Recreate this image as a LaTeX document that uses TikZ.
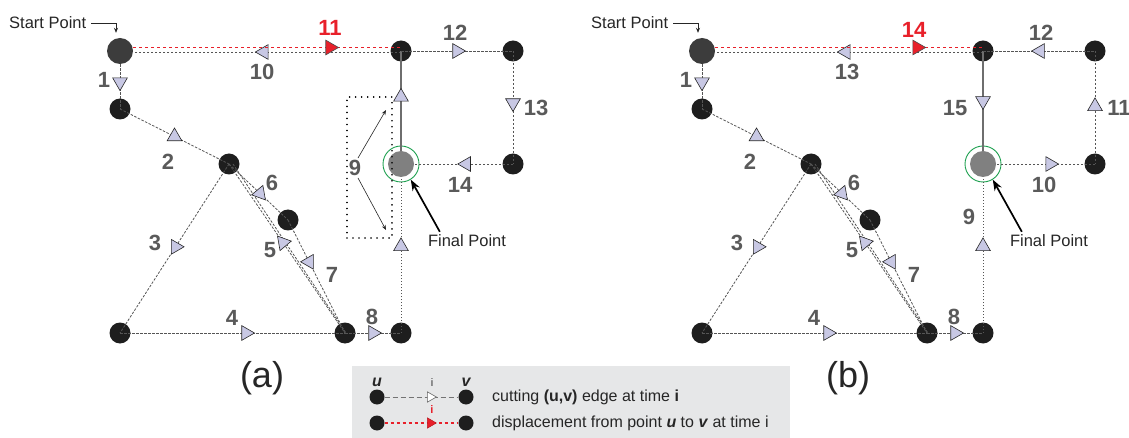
\documentclass[tikz,border=0pt]{standalone}
\usepackage{fontspec}
\setmainfont{Liberation Sans}
\usetikzlibrary{shapes.geometric,arrows.meta}
\definecolor{lav}{RGB}{200,200,228}
\definecolor{numgray}{RGB}{90,90,90}
\definecolor{dispred}{RGB}{232,32,42}
\definecolor{nodeblk}{RGB}{30,30,30}
\definecolor{startgray}{RGB}{60,60,60}
\definecolor{finalgray}{RGB}{128,128,128}
\definecolor{ringgreen}{RGB}{30,160,80}
\definecolor{edgegray}{RGB}{85,85,85}
\definecolor{solidgray}{RGB}{110,110,110}
\definecolor{legendbg}{RGB}{230,231,232}
\tikzset{
 vtx/.style={circle, fill=nodeblk, minimum size=21pt, inner sep=0pt},
 startv/.style={circle, fill=startgray, minimum size=26pt, inner sep=0pt},
 finalv/.style={circle, fill=finalgray, minimum size=26pt, inner sep=0pt},
 ring/.style={circle, draw=ringgreen, line width=0.9pt, minimum size=36pt, inner sep=0pt},
 lvtx/.style={circle, fill=nodeblk, minimum size=15pt, inner sep=0pt},
 edge/.style={draw=edgegray, line width=0.8pt, dash pattern=on 2.5pt off 1.5pt},
 dotedge/.style={draw=edgegray, line width=0.8pt, dash pattern=on 1.2pt off 1.8pt},
 solidedge/.style={draw=solidgray, line width=1.2pt},
 disp/.style={draw=dispred, line width=1.3pt, dash pattern=on 3pt off 3pt},
 tri/.style={regular polygon, regular polygon sides=3, solid, draw=black!85, fill=lav, line width=0.6pt, minimum size=17pt, inner sep=0pt, rotate=#1},
 redtri/.style={regular polygon, regular polygon sides=3, solid, draw=black!70, fill=dispred, line width=0.6pt, minimum size=17pt, inner sep=0pt, rotate=#1},
 num/.style={text=numgray, font=\fontsize{22}{22}\selectfont\bfseries, inner sep=0pt},
 rednum/.style={num, text=dispred},
 lbl/.style={font=\fontsize{16.5}{16.5}\selectfont, text=black!85, inner sep=0pt},
 captext/.style={font=\fontsize{36}{36}\selectfont, text=black!85, inner sep=0pt},
 thinarr/.style={draw=black!85, line width=0.6pt, -{Stealth[length=5pt,width=4pt]}},
 bigarr/.style={draw=black, line width=1.7pt, -{Stealth[length=11pt,width=8pt]}},
}
\newcommand\panelcommon[1]{%
 \node[startv] (S) at (120,51) {};
 \node[vtx] (A1) at (120,109) {};
 \node[vtx] (A2) at (229,164) {};
 \node[vtx] (M) at (288,220) {};
 \node[vtx] (BL) at (120,333) {};
 \node[vtx] (BM) at (345,333) {};
 \node[vtx] (BR) at (401,333) {};
 \node[ring] (FR) at (401,164) {};
 \node[finalv] (F) at (401,164) {};
 \node[vtx] (T) at (401,51) {};
 \node[vtx] (TR) at (513,51) {};
 \node[vtx] (RM) at (513,164) {};
 \path[edge] (S) -- node[tri=180, pos=.4]{} (A1.center);
 \path[edge] (A1.center) -- node[tri=0, pos=.5]{} (A2.center);
 \path[edge] (A2.center) -- node[tri=-90, pos=.49]{} (BL.center);
 \path[edge] (BL.center) -- node[tri=-90, pos=.56]{} (BM.center);
 \path[edge] ([xshift=4pt]A2.center) -- ([xshift=1pt]BM.center);
 \path[edge] (A2.center) -- node[tri=-80, pos=.465]{} (BM.center);
 \path[edge] (A2.center) -- node[tri=100, pos=.525]{} (M.center);
 \path[edge] (M.center) -- node[tri=90, pos=.37]{} (BM.center);
 \path[edge] (BM.center) -- node[tri=-90, pos=.5]{} (BR.center);
 \path[dotedge] (BR.center) -- node[tri=0, pos=.556]{} (F);
 \path[edge] ([yshift=-1pt]T.center) -- node[tri=90, pos=.512]{} ([yshift=-1pt]S.east);
 \path[disp] ([yshift=3.5pt]S.east) -- node[redtri=-90, pos=#1]{} ([yshift=3.5pt]T.center);
 \node[num] (n1) at (104,80) {1};
 \node[num] (n2) at (168,162) {2};
 \node[num] (n3) at (155,243) {3};
 \node[num] (n4) at (232,318) {4};
 \node[num] (n5) at (270,250) {5};
 \node[num] (n6) at (272,183) {6};
 \node[num] (n7) at (332,275) {7};
 \node[num] (n8) at (372,317) {8};
 \node[lbl, anchor=west] (sp) at (9,23) {Start Point};
 \draw[thinarr] ([xshift=5pt]sp.east) -| ([xshift=-4pt,yshift=5pt]S.north);
 \node[lbl] (fp) at (467,241) {Final Point};
 \draw[bigarr] ([xshift=12pt,yshift=3pt]fp.north west) -- (FR.-58);
}
\begin{document}
\begin{tikzpicture}[x=1pt,y=-1pt]
\useasboundingbox (0,0) rectangle (1129,438);
% ---------- panel (a)
\begin{scope}[name prefix=a-]
 \panelcommon{.735}
 \path[solidedge] (T.center) -- node[tri=0, pos=.46]{} (F);
 \path[edge] (T.center) -- node[tri=-90, pos=.5]{} (TR.center);
 \path[edge] (TR.center) -- node[tri=180, pos=.46]{} (RM.center);
 \path[edge] (RM.center) -- node[tri=90, pos=.473]{} (F);
 \node[num] (n10) at (262,72) {10};
 \node[rednum] (n11) at (330,28) {11};
 \node[num] (n12) at (455,33) {12};
 \node[num] (n13) at (536,108) {13};
 \node[num] (n14) at (460,185) {14};
 \node[num] (n9) at (355,168) {9};
 \node[draw=black, line width=1.7pt, line cap=round, dash pattern=on 0.01pt off 6pt, minimum width=45pt, minimum height=141pt, inner sep=0pt] (box9) at (369.5,167.5) {};
 \coordinate (u9) at (386,110);
 \coordinate (d9) at (386,230);
 \draw[thinarr] ([xshift=3pt,yshift=2pt]n9.north) -- (u9);
 \draw[thinarr] ([xshift=3pt,yshift=-2pt]n9.south) -- (d9);
 \node[captext] (capa) at (262,378) {(a)};
\end{scope}
% ---------- panel (b)
\begin{scope}[xshift=582pt, name prefix=b-]
 \panelcommon{.754}
 \path[solidedge] (T.center) -- node[tri=180, pos=.5]{} (F);
 \path[edge] (T.center) -- node[tri=90, pos=.51]{} (TR.center);
 \path[edge] (TR.center) -- node[tri=0, pos=.49]{} (RM.center);
 \path[edge] (RM.center) -- node[tri=-90, pos=.455]{} (F);
 \node[num] (n13) at (265,72) {13};
 \node[rednum] (n14) at (332,30) {14};
 \node[num] (n12) at (459,33) {12};
 \node[num] (n11) at (537,108) {11};
 \node[num] (n15) at (373,108) {15};
 \node[num] (n10) at (462,185) {10};
 \node[num] (n9) at (387,217) {9};
 \node[captext] (capb) at (266,378) {(b)};
\end{scope}
% ---------- legend
\node[fill=legendbg, minimum width=438pt, minimum height=72pt, inner sep=0pt, anchor=north west] (legend) at (352,366) {};
\node[lvtx] (lu1) at (377,397) {};
\node[lvtx] (lv1) at (466,397) {};
\node[lvtx] (lu2) at (377,423) {};
\node[lvtx] (lv2) at (466,423) {};
\path[draw=black!55, line width=1pt, dash pattern=on 5pt off 3pt] (lu1) -- node[regular polygon, regular polygon sides=3, solid, draw=black!60, fill=white, line width=0.6pt, minimum size=12pt, inner sep=0pt, rotate=-90, pos=.62]{} (lv1);
\path[draw=dispred, line width=1.2pt, dash pattern=on 3pt off 3pt] (lu2) -- node[regular polygon, regular polygon sides=3, solid, draw=dispred!80!black, fill=dispred, line width=0.5pt, minimum size=12pt, inner sep=0pt, rotate=-90, pos=.62]{} (lv2);
\node[font=\fontsize{11}{11}\selectfont, text=black!80, inner sep=0pt] (li1) at (432,383) {i};
\node[font=\fontsize{11}{11}\selectfont\bfseries, text=dispred, inner sep=0pt] (li2) at (432,410) {i};
\node[font=\fontsize{16}{16}\selectfont\bfseries\itshape, text=black!85, inner sep=0pt] (lu) at (377,382) {u};
\node[font=\fontsize{16}{16}\selectfont\bfseries\itshape, text=black!85, inner sep=0pt] (lv) at (466,382) {v};
\node[lbl, font=\fontsize{16}{16}\selectfont, anchor=west] (lt1) at (492,397) {cutting \textbf{(u,v)} edge at time \textbf{i}};
\node[lbl, font=\fontsize{16}{16}\selectfont, anchor=west] (lt2) at (492,423) {displacement from point \textbf{\textit{u}} to \textbf{\textit{v}} at time i};
\end{tikzpicture}
\end{document}
